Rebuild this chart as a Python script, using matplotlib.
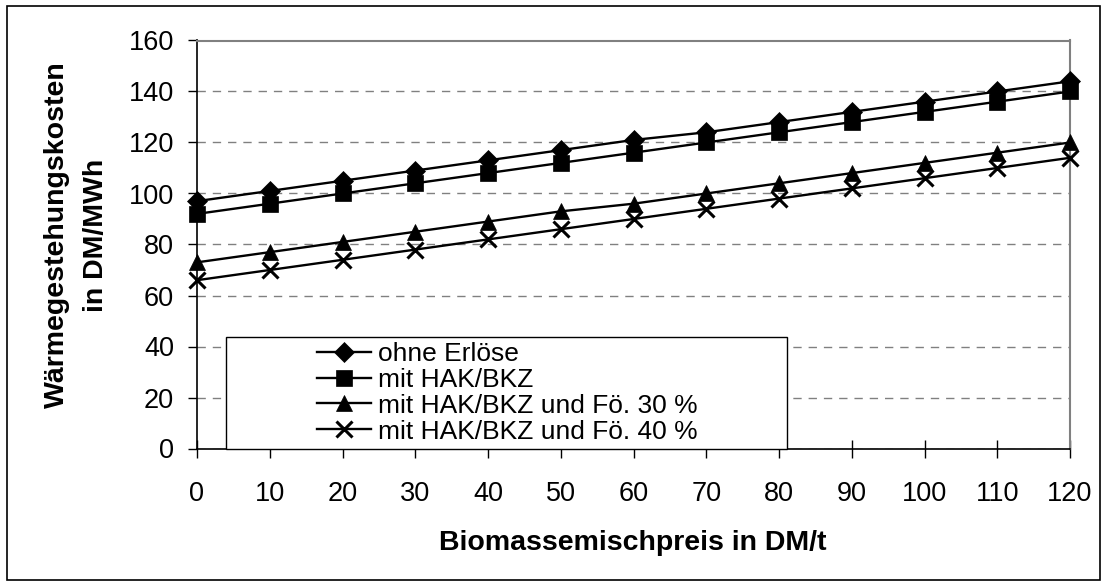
"""
Wärmegestehungskosten in Abhängigkeit vom Biomassemischpreis.
"""

import matplotlib
import matplotlib.pyplot as plt
from matplotlib.patches import Rectangle

matplotlib.use("Agg")

# ---------------------------------------------------------------------------
# Data
# ---------------------------------------------------------------------------
PRICE_DM_T = [0, 10, 20, 30, 40, 50, 60, 70, 80, 90, 100, 110, 120]

OHNE_ERLOESE = [97, 101, 105, 109, 113, 117, 121, 124, 128, 132, 136, 140, 144]
MIT_HAK_BKZ = [92, 96, 100, 104, 108, 112, 116, 120, 124, 128, 132, 136, 140]
FOE_30 = [73, 77, 81, 85, 89, 93, 96, 100, 104, 108, 112, 116, 120]
FOE_40 = [66, 70, 74, 78, 82, 86, 90, 94, 98, 102, 106, 110, 114]

SERIES_LABELS = [
    "ohne Erlöse",
    "mit HAK/BKZ",
    "mit HAK/BKZ und Fö. 30 %",
    "mit HAK/BKZ und Fö. 40 %",
]
Y_TICKS = [0, 20, 40, 60, 80, 100, 120, 140, 160]

FONT = "Liberation Sans"
W, H = 1107, 587


def main() -> None:
    plt.rcParams["font.family"] = [FONT, "DejaVu Sans"]

    fig = plt.figure(figsize=(W / 100, H / 100), dpi=100)
    ax = fig.add_axes([197 / W, 1 - 448.5 / H, 873 / W, 408 / H])

    series = [OHNE_ERLOESE, MIT_HAK_BKZ, FOE_30, FOE_40]
    markers = ["D", "s", "^", "x"]
    sizes = [10.5, 11, 12, 12]
    for values, label, marker, ms in zip(series, SERIES_LABELS, markers, sizes):
        ax.plot(
            PRICE_DM_T,
            values,
            color="black",
            linewidth=1.7,
            marker=marker,
            markersize=ms,
            markeredgewidth=2.2 if marker == "x" else 0.5,
            markerfacecolor="black",
            markeredgecolor="black",
            label=label,
            clip_on=False,
            zorder=3,
        )

    ax.set_xlim(0, 120)
    ax.set_ylim(0, 160)
    ax.set_xticks(PRICE_DM_T)
    ax.set_yticks(Y_TICKS)
    ax.yaxis.grid(True, color="#808080", linestyle=(0, (6, 5)), linewidth=1.0)
    ax.set_axisbelow(True)

    for side in ("top", "right"):
        ax.spines[side].set_color("#808080")
        ax.spines[side].set_linewidth(1.5)
    for side in ("left", "bottom"):
        ax.spines[side].set_color("black")
        ax.spines[side].set_linewidth(1.2)

    ax.tick_params(axis="x", direction="inout", length=13, width=1.0, pad=17, labelsize=19.5)
    ax.tick_params(axis="y", direction="out", length=6.5, width=1.0, pad=10, labelsize=19.5)

    # Axis titles
    fig.text(633 / W, 1 - 550 / H, "Biomassemischpreis in DM/t", ha="center", va="baseline",
             fontsize=20.5, fontweight="bold")
    fig.text(64 / W, 1 - 235 / H, "Wärmegestehungskosten", rotation=90, rotation_mode="anchor",
             ha="center", va="baseline", fontsize=20.5, fontweight="bold")
    fig.text(103 / W, 1 - 235 / H, "in DM/MWh", rotation=90, rotation_mode="anchor",
             ha="center", va="baseline", fontsize=20.5, fontweight="bold")

    # Legend box (Excel style: wide frame, entries offset inside)
    ax.add_patch(Rectangle((29 / 873, 0), (787 - 226) / 873, (448.5 - 337) / 408,
                           transform=ax.transAxes, facecolor="white", edgecolor="black",
                           linewidth=1.0, zorder=4, clip_on=False))
    leg = ax.legend(
        loc="upper left",
        bbox_to_anchor=((317 - 197) / 873, (448.5 - 342) / 408),
        frameon=False,
        fontsize=19,
        borderpad=0,
        borderaxespad=0,
        handlelength=2.05,
        handletextpad=0.27,
        labelspacing=0.07,
    )
    leg.set_zorder(5)

    # Outer chart border
    fig.patches.append(Rectangle((7 / W, 1 - 580 / H), (1100 - 7) / W, (580 - 6) / H,
                                 transform=fig.transFigure, facecolor="none",
                                 edgecolor="black", linewidth=1.2))

    fig.savefig("out.png", dpi=100)
    plt.close(fig)


if __name__ == "__main__":
    main()
